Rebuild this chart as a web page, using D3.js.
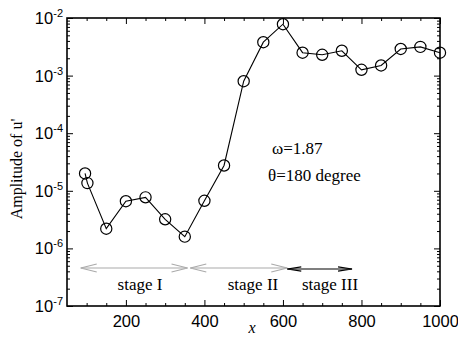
<!DOCTYPE html>
<html>
<head>
<meta charset="utf-8">
<script src="https://cdn.jsdelivr.net/npm/d3@7"></script>
<style>
  body { margin: 0; background: #fff; }
  svg { display: block; }
</style>
</head>
<body>
<svg id="chart" width="458" height="337"></svg>
<script>
// streamwise position and amplitude of u'
const xs = [96, 102, 150, 200, 250, 300, 350, 400, 450, 500, 550, 600, 650, 700, 750, 800, 850, 900, 950, 1000];
const amps = [2.0e-5, 1.36e-5, 2.2e-6, 6.6e-6, 7.7e-6, 3.2e-6, 1.6e-6, 6.7e-6, 2.75e-5, 8.0e-4, 3.8e-3, 7.8e-3,
              2.5e-3, 2.3e-3, 2.7e-3, 1.26e-3, 1.5e-3, 2.9e-3, 3.15e-3, 2.5e-3];

const xTicks = [200, 400, 600, 800, 1000];
const yExps = [-7, -6, -5, -4, -3, -2];

const stages = [
  { label: 'stage I', from: 85, to: 357, color: '#aaaaaa' },
  { label: 'stage II', from: 364, to: 611, color: '#aaaaaa' },
  { label: 'stage III', from: 611, to: 776, color: '#000000' }
];

const svg = d3.select('#chart');
const margin = { top: 18, right: 18, bottom: 31, left: 67 };
const width = 458, height = 337;

const x = d3.scaleLinear().domain([50, 1000]).range([margin.left, width - margin.right]);
const y = d3.scaleLog().domain([1e-7, 1e-2]).range([height - margin.bottom, margin.top]);

const majorY = yExps.map(e => Math.pow(10, e));
const minorY = [];
yExps.slice(0, -1).forEach(e => {
  for (let k = 2; k <= 9; k++) minorY.push(k * Math.pow(10, e));
});
const minorX = d3.range(100, 1000, 50).filter(v => xTicks.indexOf(v) < 0);

const axisG = svg.append('g').attr('class', 'axes');

function styleAxis(g) {
  g.select('.domain').remove();
  g.selectAll('line').attr('stroke', '#000').attr('stroke-width', 1);
}

// bottom
axisG.append('g')
  .attr('transform', `translate(0,${y.range()[0]})`)
  .call(d3.axisBottom(x).tickValues(xTicks).tickSize(-6).tickPadding(9).tickFormat(d3.format('d')))
  .call(styleAxis)
  .call(g => g.selectAll('text')
    .attr('font-family', 'Liberation Sans, Arial, sans-serif')
    .attr('font-size', 16.5).attr('fill', '#000'));
axisG.append('g')
  .attr('transform', `translate(0,${y.range()[0]})`)
  .call(d3.axisBottom(x).tickValues(minorX).tickSize(-3).tickFormat(''))
  .call(styleAxis);

// top
axisG.append('g')
  .attr('transform', `translate(0,${y.range()[1]})`)
  .call(d3.axisTop(x).tickValues(xTicks).tickSize(-6).tickFormat(''))
  .call(styleAxis);
axisG.append('g')
  .attr('transform', `translate(0,${y.range()[1]})`)
  .call(d3.axisTop(x).tickValues(minorX).tickSize(-3).tickFormat(''))
  .call(styleAxis);

// left
axisG.append('g')
  .attr('transform', `translate(${x.range()[0]},0)`)
  .call(d3.axisLeft(y).tickValues(majorY).tickSize(-6).tickFormat(''))
  .call(styleAxis);
axisG.append('g')
  .attr('transform', `translate(${x.range()[0]},0)`)
  .call(d3.axisLeft(y).tickValues(minorY).tickSize(-3).tickFormat(''))
  .call(styleAxis);

// right
axisG.append('g')
  .attr('transform', `translate(${x.range()[1]},0)`)
  .call(d3.axisRight(y).tickValues(majorY).tickSize(-6).tickFormat(''))
  .call(styleAxis);
axisG.append('g')
  .attr('transform', `translate(${x.range()[1]},0)`)
  .call(d3.axisRight(y).tickValues(minorY).tickSize(-3).tickFormat(''))
  .call(styleAxis);

// y tick labels: 10 with superscript exponent
const yLab = svg.append('g')
  .attr('font-family', 'Liberation Sans, Arial, sans-serif')
  .attr('fill', '#000');
yExps.forEach(e => {
  const t = yLab.append('text')
    .attr('x', x.range()[0] - 4)
    .attr('y', y(Math.pow(10, e)) + 6)
    .attr('text-anchor', 'end');
  t.append('tspan').attr('font-size', 16.5).text('10');
  t.append('tspan').attr('font-size', 11).attr('dy', -7).text('-' + Math.abs(e));
});

// frame
svg.append('rect')
  .attr('x', x.range()[0]).attr('y', y.range()[1])
  .attr('width', x.range()[1] - x.range()[0])
  .attr('height', y.range()[0] - y.range()[1])
  .attr('fill', 'none').attr('stroke', '#000').attr('stroke-width', 1.6);

// data line and markers
const pts = xs.map((v, i) => ({ x: v, a: amps[i] }));
svg.append('path')
  .datum(pts)
  .attr('fill', 'none').attr('stroke', '#000').attr('stroke-width', 1.1)
  .attr('d', d3.line().x(d => x(d.x)).y(d => y(d.a)));

svg.append('g').selectAll('circle')
  .data(pts)
  .join('circle')
  .attr('cx', d => x(d.x)).attr('cy', d => y(d.a))
  .attr('r', 5.6)
  .attr('fill', 'none').attr('stroke', '#000').attr('stroke-width', 1.2);

// stage arrows
const arrowY = 268;
const arrows = svg.append('g');
stages.forEach((s, i) => {
  const x0 = x(s.from), x1 = x(s.to);
  const g = arrows.append('g').attr('stroke', s.color).attr('fill', 'none').attr('stroke-width', 1.2);
  const ay = i === 2 ? arrowY + 1 : arrowY;
  g.append('line').attr('x1', x0).attr('x2', x1).attr('y1', ay).attr('y2', ay);
  const hl = i === 2 ? 14 : 16, hw = i === 2 ? 2.2 : 4;
  g.append('path').attr('d', `M${x0 + hl},${ay - hw}L${x0},${ay}L${x0 + hl},${ay + hw}`);
  g.append('path').attr('d', `M${x1 - hl},${ay - hw}L${x1},${ay}L${x1 - hl},${ay + hw}`);
});

const serif = 'Liberation Serif, Times New Roman, serif';
svg.append('g').selectAll('text')
  .data(stages)
  .join('text')
  .attr('x', (d, i) => [140, 253, 330][i])
  .attr('y', 290)
  .attr('text-anchor', 'middle')
  .attr('font-family', serif).attr('font-size', 17).attr('fill', '#000')
  .text(d => d.label);

// annotations
svg.append('text').attr('x', 272).attr('y', 154)
  .attr('font-family', serif).attr('font-size', 17).text('ω=1.87');
svg.append('text').attr('x', 268).attr('y', 181)
  .attr('font-family', serif).attr('font-size', 17).text('θ=180 degree');

// axis titles
svg.append('text')
  .attr('transform', 'translate(22,169) rotate(-90)')
  .attr('text-anchor', 'middle')
  .attr('font-family', serif).attr('font-size', 16).text("Amplitude of u'");
svg.append('text')
  .attr('x', 252).attr('y', 333)
  .attr('text-anchor', 'middle')
  .attr('font-family', serif).attr('font-style', 'italic').attr('font-size', 16).text('x');
</script>
</body>
</html>
